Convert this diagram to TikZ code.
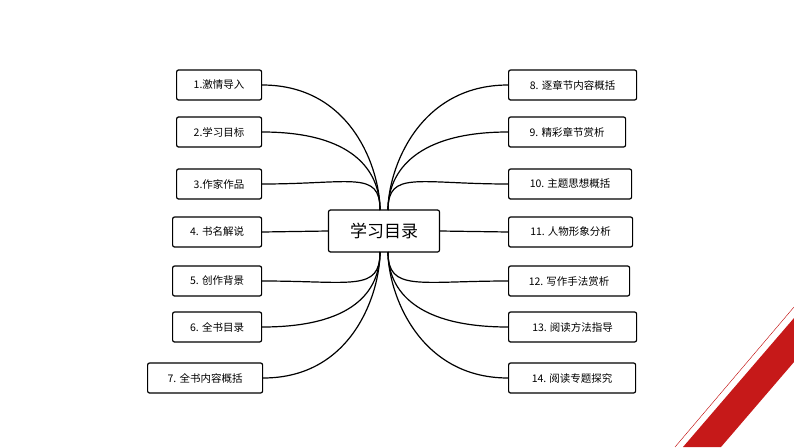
\documentclass[tikz,border=0pt]{standalone}
\usepackage{fontspec}
\setmainfont{Noto Sans CJK SC}
\begin{document}
\begin{tikzpicture}[x=1pt,y=-1pt,
 item/.style={draw,line width=1.2pt,rounded corners=2pt,minimum height=30pt,inner sep=0pt,font=\fontsize{10.5}{12}\selectfont,anchor=west},
 link/.style={line width=1.2pt}]
\useasboundingbox (0,0) rectangle (794,447);
\fill[white] (0,0) rectangle (794,447);
\fill[red!75!black!90] (683,447) -- (794,318) -- (794,362) -- (721,447) -- cycle;
\draw[red!75!black,thin] (675,447) -- (794,307);
\node[draw,line width=1.2pt,rounded corners=2pt,minimum width=111pt,minimum height=42pt,font=\fontsize{17}{20}\selectfont] (c) at (384,231) {学习目录};
\node[item,minimum width=85pt] (l1) at (176,85) {1.激情导入};
\node[item,minimum width=85pt] (l2) at (176,132) {2.学习目标};
\node[item,minimum width=85pt] (l3) at (176,184) {3.作家作品};
\node[item,minimum width=89pt] (l4) at (172,232) {4. 书名解说};
\node[item,minimum width=89pt] (l5) at (172,281) {5. 创作背景};
\node[item,minimum width=89pt] (l6) at (172,327) {6. 全书目录};
\node[item,minimum width=115pt] (l7) at (147,378) {7. 全书内容概括};
\node[item,minimum width=128pt] (r8) at (508,85) {8. 逐章节内容概括};
\node[item,minimum width=117pt] (r9) at (508,132) {9. 精彩章节赏析};
\node[item,minimum width=123pt] (r10) at (508,184) {10. 主题思想概括};
\node[item,minimum width=124pt] (r11) at (508,232) {11. 人物形象分析};
\node[item,minimum width=121pt] (r12) at (508,281) {12. 写作手法赏析};
\node[item,minimum width=128pt] (r13) at (508,327) {13. 阅读方法指导};
\node[item,minimum width=127pt] (r14) at (508,378) {14. 阅读专题探究};
\foreach \n in {l1,l2,l3}{\draw[link] (\n.east) .. controls +(90,0) and (380,170) .. (380,210);}
\foreach \n in {l5,l6,l7}{\draw[link] (\n.east) .. controls +(90,0) and (380,292) .. (380,252);}
\draw[link] (l4.east) -- (c.west);
\foreach \n in {r8,r9,r10}{\draw[link] (\n.west) .. controls +(-90,0) and (388,170) .. (388,210);}
\foreach \n in {r12,r13,r14}{\draw[link] (\n.west) .. controls +(-90,0) and (388,292) .. (388,252);}
\draw[link] (r11.west) -- (c.east);
\end{tikzpicture}
\end{document}
